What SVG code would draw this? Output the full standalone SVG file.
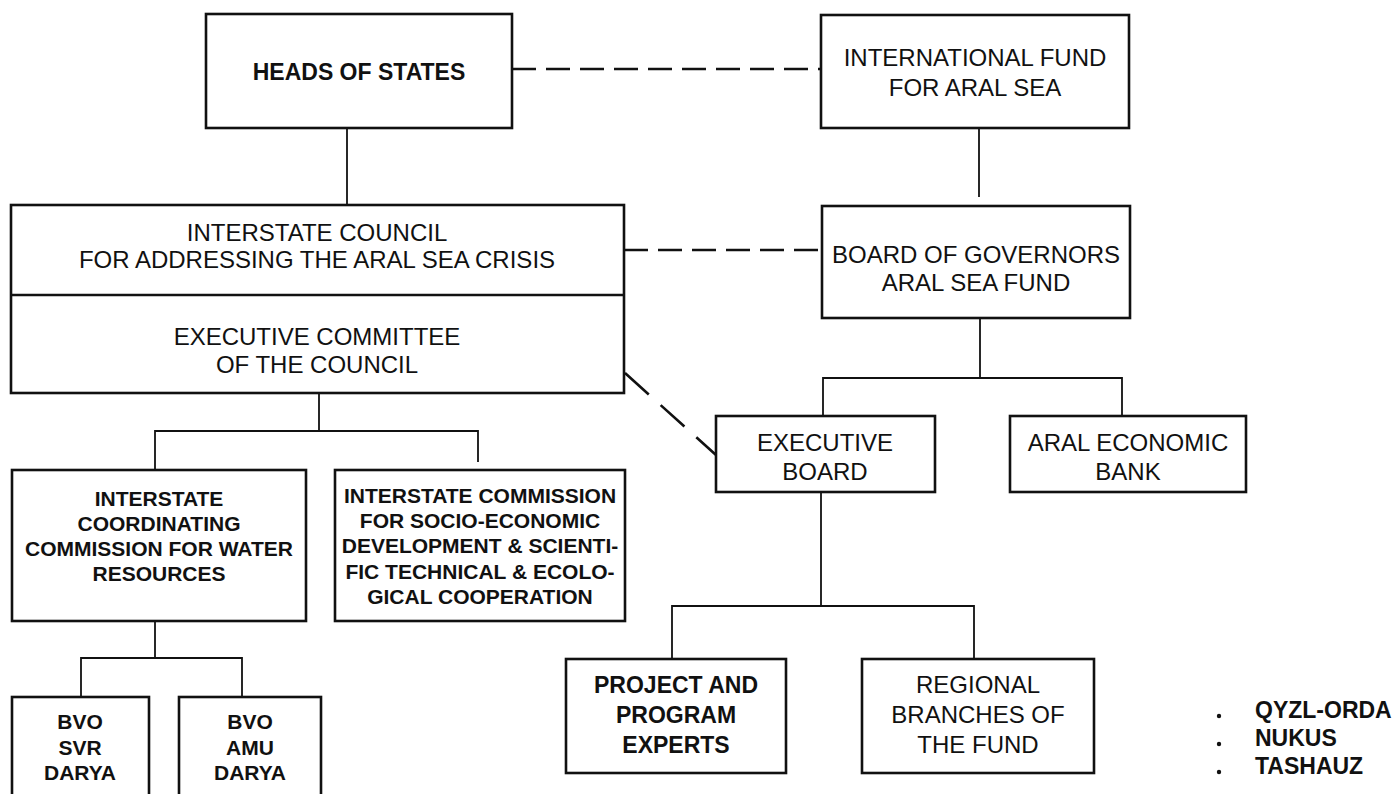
<svg xmlns="http://www.w3.org/2000/svg" width="1399" height="794" viewBox="0 0 1399 794">
  <style>
    .box { fill: #ffffff; stroke: #111111; stroke-width: 2.6; }
    .link { fill: none; stroke: #111111; stroke-width: 1.8; }
    .dash { fill: none; stroke: #111111; stroke-width: 2.6; stroke-dasharray: 24 10; }
    .dashdiag { fill: none; stroke: #111111; stroke-width: 2.6; stroke-dasharray: 32 16; }
    text { font-family: "Liberation Sans", Arial, sans-serif; fill: #111111; text-anchor: middle; }
    .reg { font-size: 24px; font-weight: normal; }
    .bold { font-size: 21px; font-weight: bold; }
    .big { font-size: 23px; font-weight: bold; }
    .list { font-size: 23px; font-weight: bold; text-anchor: start; }
  </style>
  <rect x="0" y="0" width="1399" height="794" fill="#ffffff"/>

  <!-- connectors: solid reporting lines, dashed liaison lines -->
  <g id="connectors">
    <line class="dash" x1="512" y1="69" x2="821" y2="69"/>
    <line class="dash" x1="624" y1="250" x2="822" y2="250"/>
    <line class="dashdiag" x1="625" y1="373" x2="716" y2="455"/>
    <line class="link" x1="347" y1="128" x2="347" y2="205"/>
    <line class="link" x1="979" y1="128" x2="979" y2="197"/>
    <polyline class="link" points="980,318 980,378"/>
    <polyline class="link" points="823,416 823,378 1122,378 1122,416"/>
    <polyline class="link" points="319,393 319,431"/>
    <polyline class="link" points="155,470 155,431 478,431 478,462"/>
    <polyline class="link" points="155,621 155,658"/>
    <polyline class="link" points="81,697 81,658 242,658 242,697"/>
    <polyline class="link" points="821,492 821,606"/>
    <polyline class="link" points="672,659 672,606 974,606 974,659"/>
  </g>

  <g id="heads-of-states">
    <rect class="box" x="206" y="14" width="306" height="114"/>
    <text class="big" x="359" y="80">HEADS OF STATES</text>
  </g>

  <g id="international-fund">
    <rect class="box" x="821" y="15" width="308" height="113"/>
    <text class="reg" x="975" y="66">INTERNATIONAL FUND</text>
    <text class="reg" x="975" y="96">FOR ARAL SEA</text>
  </g>

  <g id="interstate-council">
    <rect class="box" x="11" y="205" width="613" height="188"/>
    <line class="box" x1="11" y1="295" x2="624" y2="295"/>
    <text class="reg" x="317" y="241">INTERSTATE COUNCIL</text>
    <text class="reg" x="317" y="268">FOR ADDRESSING THE ARAL SEA CRISIS</text>
    <text class="reg" x="317" y="345">EXECUTIVE COMMITTEE</text>
    <text class="reg" x="317" y="373">OF THE COUNCIL</text>
  </g>

  <g id="board-of-governors">
    <rect class="box" x="822" y="206" width="308" height="112"/>
    <text class="reg" x="976" y="263">BOARD OF GOVERNORS</text>
    <text class="reg" x="976" y="291">ARAL SEA FUND</text>
  </g>

  <g id="executive-board">
    <rect class="box" x="716" y="416" width="219" height="76"/>
    <text class="reg" x="825" y="451">EXECUTIVE</text>
    <text class="reg" x="825" y="480">BOARD</text>
  </g>

  <g id="aral-economic-bank">
    <rect class="box" x="1010" y="416" width="236" height="76"/>
    <text class="reg" x="1128" y="451">ARAL ECONOMIC</text>
    <text class="reg" x="1128" y="480">BANK</text>
  </g>

  <g id="water-commission">
    <rect class="box" x="12" y="470" width="294" height="151"/>
    <text class="bold" x="159" y="506">INTERSTATE</text>
    <text class="bold" x="159" y="531">COORDINATING</text>
    <text class="bold" x="159" y="556">COMMISSION FOR WATER</text>
    <text class="bold" x="159" y="581">RESOURCES</text>
  </g>

  <g id="socio-economic-commission">
    <rect class="box" x="335" y="470" width="290" height="151"/>
    <text class="bold" x="480" y="503">INTERSTATE COMMISSION</text>
    <text class="bold" x="480" y="528">FOR SOCIO-ECONOMIC</text>
    <text class="bold" x="480" y="553">DEVELOPMENT &amp; SCIENTI-</text>
    <text class="bold" x="480" y="579">FIC TECHNICAL &amp; ECOLO-</text>
    <text class="bold" x="480" y="604">GICAL COOPERATION</text>
  </g>

  <g id="bvo-syr-darya">
    <rect class="box" x="12" y="697" width="137" height="110"/>
    <text class="bold" x="80" y="729">BVO</text>
    <text class="bold" x="80" y="755">SVR</text>
    <text class="bold" x="80" y="780">DARYA</text>
  </g>

  <g id="bvo-amu-darya">
    <rect class="box" x="179" y="697" width="142" height="110"/>
    <text class="bold" x="250" y="729">BVO</text>
    <text class="bold" x="250" y="755">AMU</text>
    <text class="bold" x="250" y="780">DARYA</text>
  </g>

  <g id="project-experts">
    <rect class="box" x="566" y="659" width="220" height="114"/>
    <text class="big" x="676" y="693">PROJECT AND</text>
    <text class="big" x="676" y="723">PROGRAM</text>
    <text class="big" x="676" y="753">EXPERTS</text>
  </g>

  <g id="regional-branches">
    <rect class="box" x="862" y="659" width="232" height="114"/>
    <text class="reg" x="978" y="693">REGIONAL</text>
    <text class="reg" x="978" y="723">BRANCHES OF</text>
    <text class="reg" x="978" y="753">THE FUND</text>
  </g>

  <g id="branch-list">
    <circle cx="1219" cy="716" r="2.2" fill="#111111"/>
    <circle cx="1219" cy="744" r="2.2" fill="#111111"/>
    <circle cx="1219" cy="772" r="2.2" fill="#111111"/>
    <text class="list" x="1255" y="718">QYZL-ORDA</text>
    <text class="list" x="1255" y="746">NUKUS</text>
    <text class="list" x="1255" y="774">TASHAUZ</text>
  </g>
</svg>
